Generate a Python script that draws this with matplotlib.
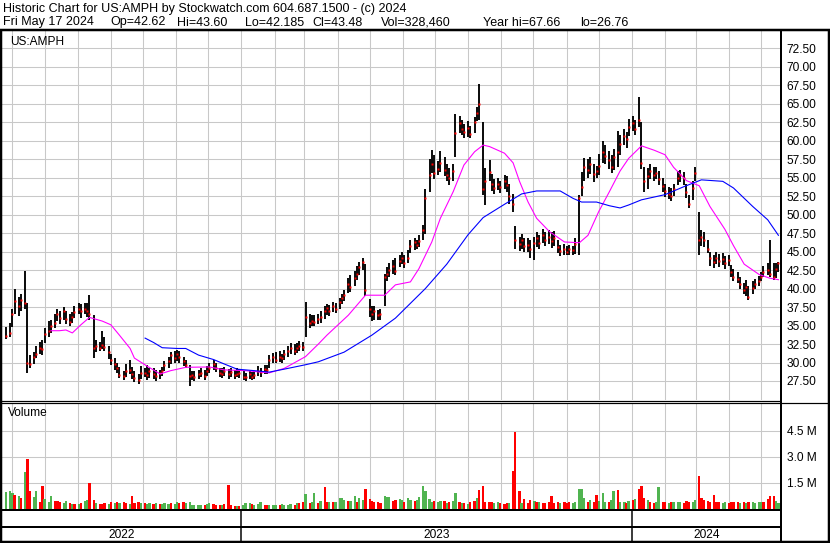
import numpy as np
import pandas as pd
import matplotlib
matplotlib.use("Agg")
import matplotlib.pyplot as plt
import matplotlib.dates as mdates
from matplotlib.lines import Line2D

plt.rcParams['font.family'] = ['Liberation Sans', 'DejaVu Sans']

# ---------------- data (one bar = two trading days) ----------------
closes = [
33.6,34.0,36.5,38.3,37.6,38.4,38.1,30.0,29.8,30.8,
31.2,32.0,31.8,33.9,34.3,35.0,35.4,36.5,36.0,36.9,
35.9,35.5,36.2,36.8,37.2,36.9,37.3,37.0,36.6,31.9,
32.3,32.0,32.4,32.1,31.4,30.3,29.8,29.2,28.3,28.2,
28.9,29.0,28.4,27.9,27.6,28.6,28.6,28.3,28.8,28.4,
28.2,28.6,28.9,29.6,30.2,31.0,30.6,31.1,30.7,30.2,
29.7,28.2,28.3,28.0,28.4,28.6,28.2,28.9,29.3,29.8,
29.3,28.6,28.5,28.9,28.4,28.7,28.3,28.5,28.6,28.1,
28.0,28.4,28.1,28.3,28.9,28.7,29.1,29.0,30.3,30.7,
30.4,30.8,30.6,31.1,31.5,31.9,31.6,32.0,32.3,32.1,
36.2,35.3,35.6,35.5,35.9,36.2,36.9,37.4,36.9,37.6,
37.3,38.2,38.7,39.1,40.6,40.2,41.4,42.0,42.9,43.6,
39.8,37.2,36.6,36.9,36.4,36.5,41.6,42.0,42.5,43.0,
42.4,43.7,44.1,43.5,44.2,45.7,46.3,45.9,46.4,47.9,
52.3,55.4,56.8,55.6,56.2,57.0,56.0,55.4,55.0,55.9,
61.0,62.4,61.6,61.2,61.7,60.9,62.5,63.7,65.0,53.4,
54.6,55.8,54.1,53.6,54.2,53.7,54.5,54.0,52.5,51.5,
46.6,46.0,46.5,45.7,45.9,45.4,46.2,46.8,46.2,47.2,
46.6,47.0,46.4,46.9,45.6,45.1,45.4,45.0,45.3,45.2,
46.0,52.2,53.8,56.5,56.0,56.8,55.5,55.9,56.6,58.5,
57.9,57.4,56.5,57.8,58.5,59.5,60.6,60.2,61.8,62.4,
61.6,62.8,57.0,54.6,55.2,55.9,55.3,55.6,54.8,53.9,
53.2,52.8,52.5,53.4,54.9,55.4,55.0,53.0,51.5,53.6,
55.6,46.6,47.0,46.5,45.4,44.1,43.6,44.2,43.7,44.0,
43.4,43.8,42.2,41.6,41.3,40.6,39.8,40.2,38.9,40.1,
40.6,41.0,41.6,42.2,42.5,42.0,41.6,42.6,43.48]

highs = [
34.8,35.3,37.2,39.9,38.9,39.2,42.4,38.1,31.0,31.4,
32.2,32.8,33.0,34.6,35.6,35.8,36.5,37.2,37.0,37.5,
37.0,36.6,36.8,37.7,38.0,37.9,38.1,38.0,39.1,36.4,
33.0,32.8,34.3,33.4,32.2,31.2,30.6,30.0,29.4,28.9,
29.8,30.3,29.4,28.9,28.5,29.5,29.2,29.6,29.3,29.3,
29.0,29.0,29.4,30.2,30.8,31.4,31.5,31.7,31.5,30.8,
30.4,29.6,28.9,28.8,29.0,29.2,29.0,29.5,30.0,30.3,
30.0,29.3,29.2,29.4,29.1,29.3,29.0,29.2,29.1,28.9,
28.6,28.9,28.7,28.8,29.5,29.3,29.6,29.7,31.0,31.3,
31.4,31.5,31.2,31.7,32.2,32.7,32.5,32.7,32.9,32.8,
38.2,36.6,36.4,36.4,36.6,36.9,37.6,37.9,37.8,38.2,
38.0,38.7,39.3,39.8,41.4,41.8,42.4,43.0,43.6,44.2,
43.3,38.6,37.6,37.7,37.1,37.2,42.0,42.9,43.5,43.8,
44.2,44.6,45.0,44.5,45.2,46.5,46.9,46.6,47.3,48.6,
53.5,57.5,58.7,58.0,57.2,58.6,57.8,56.8,56.3,56.8,
63.6,63.4,62.8,62.2,62.6,62.0,63.2,64.6,67.6,62.5,
56.3,57.4,55.5,54.8,55.0,54.6,55.4,55.2,54.1,52.8,
48.4,47.0,47.4,46.8,46.9,46.5,47.0,47.6,47.3,48.0,
47.7,47.9,47.6,47.8,46.5,45.9,46.0,45.8,45.9,45.8,
46.8,52.6,55.8,57.7,57.5,57.8,56.8,56.6,58.2,60.0,
59.4,58.6,58.0,58.9,61.3,60.8,61.6,61.2,62.9,63.4,
62.8,65.9,62.5,56.4,56.3,56.8,56.5,56.5,55.9,55.0,
54.2,53.8,53.6,54.2,55.9,56.0,55.8,54.1,52.6,54.6,
56.4,50.4,47.9,47.6,46.5,45.0,44.6,45.0,44.7,44.8,
44.4,44.5,43.2,42.6,42.2,41.5,40.8,41.2,40.3,41.0,
41.3,41.7,42.3,43.0,43.5,46.6,43.5,43.4,43.6]

lows = [
33.2,33.5,34.8,36.6,36.3,37.0,37.2,28.6,29.3,29.8,
30.6,31.2,31.0,32.6,33.5,34.0,34.6,35.6,35.2,35.8,
35.2,34.9,35.3,36.0,36.5,36.0,36.5,36.2,35.8,30.6,
31.4,31.5,31.8,31.5,30.5,29.6,29.0,28.6,27.9,27.7,
28.0,28.4,27.8,27.4,27.1,27.8,28.0,27.6,27.9,27.8,
27.5,27.8,28.2,28.8,29.3,29.8,30.0,30.2,30.0,29.5,
29.2,26.8,27.7,27.5,27.8,28.0,27.7,28.2,28.6,29.0,
28.7,28.0,27.9,28.2,27.8,28.1,27.8,28.0,27.9,27.6,
27.5,27.8,27.6,27.8,28.2,28.1,28.4,28.5,29.2,30.0,
29.9,30.1,30.0,30.4,30.8,31.2,31.0,31.3,31.6,31.5,
33.5,34.6,35.0,35.0,35.2,35.4,35.9,36.4,36.3,36.8,
36.7,37.3,37.9,38.3,39.4,39.6,40.4,41.2,41.8,42.5,
39.0,36.2,35.6,35.8,35.7,35.8,37.6,41.0,41.6,42.0,
41.8,42.9,43.3,42.8,43.4,44.8,45.2,45.3,45.6,46.6,
47.4,53.0,55.6,54.8,55.3,55.8,55.2,54.6,54.0,54.6,
57.8,61.0,60.7,60.3,60.5,60.3,61.0,62.6,62.8,52.6,
51.3,54.6,53.2,52.8,53.3,52.9,53.4,53.0,51.4,50.4,
45.4,45.1,45.3,44.9,44.9,44.2,43.9,45.6,45.4,46.2,
45.8,46.0,45.5,45.8,44.8,44.4,44.6,44.5,44.6,44.5,
44.7,44.6,52.5,54.6,55.0,55.5,54.4,54.9,55.4,57.0,
56.8,56.2,55.6,56.1,56.4,58.0,59.4,59.0,60.6,61.3,
60.8,61.8,56.2,53.0,53.4,54.8,54.6,54.8,54.0,53.0,
52.4,52.1,51.8,52.5,54.0,54.4,54.0,52.2,50.9,52.0,
54.5,44.5,45.7,45.6,44.8,43.1,42.8,43.3,42.9,43.2,
42.7,43.0,41.6,41.0,40.7,39.9,39.2,39.0,38.4,39.3,
40.0,40.4,41.0,41.6,41.8,41.6,41.2,41.4,42.19]

volume_m = [
0.95,1.0,0.9,0.8,0.75,0.6,2.1,2.85,1.0,0.65,
1.0,0.4,1.3,0.55,0.35,0.75,0.45,0.45,0.35,0.3,
0.45,0.3,0.25,0.28,0.25,0.3,0.45,0.5,1.45,0.5,
0.3,0.27,0.27,0.3,0.27,0.35,0.3,0.35,0.3,0.35,
0.3,0.25,0.72,0.3,0.35,0.3,0.3,0.25,0.3,0.28,
0.3,0.25,0.25,0.3,0.28,0.3,0.25,0.35,0.3,0.4,
0.3,0.35,0.2,0.2,0.22,0.2,0.2,0.25,0.3,0.25,
0.22,0.22,0.2,0.25,1.35,0.2,0.15,0.15,0.15,0.2,
0.3,0.3,0.25,0.22,0.25,0.35,0.2,0.2,0.2,0.2,
0.22,0.2,0.25,0.22,0.2,0.25,0.2,0.3,0.3,0.35,
0.85,0.3,0.35,0.9,0.3,0.45,1.24,0.35,0.4,0.35,
0.35,0.6,0.6,0.5,0.45,0.45,0.7,0.35,0.6,0.5,
1.1,0.55,0.45,0.35,0.35,0.3,0.7,0.65,0.65,0.45,
0.5,0.55,0.5,0.35,0.6,0.5,0.45,0.5,0.65,1.3,
1.0,0.55,0.35,0.45,0.4,0.45,0.45,0.3,0.4,0.45,
0.9,0.35,0.3,0.3,0.25,0.4,0.45,0.6,1.05,1.3,
0.4,0.4,0.35,0.3,0.35,0.3,0.25,0.3,0.3,2.16,
4.43,1.03,0.3,0.55,0.3,0.5,0.45,0.4,0.35,0.3,
0.3,0.4,0.75,0.3,0.35,0.3,0.35,0.3,0.35,0.3,
0.4,1.15,1.15,0.6,0.35,0.5,0.35,0.8,0.45,0.87,
0.4,0.35,0.5,1.0,1.05,0.4,0.35,0.3,0.45,0.5,
0.55,1.1,1.3,0.6,0.5,0.35,0.3,0.4,1.25,0.35,
0.35,0.3,0.35,0.35,0.4,0.35,0.3,0.45,0.4,0.35,
0.5,1.87,0.6,0.5,0.45,0.35,0.8,0.4,0.35,0.3,
0.35,0.3,0.35,0.4,0.35,0.3,0.35,0.3,0.4,0.35,
0.3,0.35,0.35,0.4,0.55,0.7,0.7,0.45,0.33]

volume_dir = ("gggrgrgrrg" "grrgggrrrg" "grgrgrggrr" "grrrgrgrgr" "rgrrrgrggr"
              "grgggrggrr" "ggggggrggr" "rrgrrrrgrg" "ggrgggrrgg" "grggggrgrr"
              "grggrgrrgr" "ggggrggrgg" "rrrrrrgggr" "rggrggrggg" "gggrggrgrg"
              "grgrgrrgrr" "rrrggrrrgr" "rrgrrrgrgr" "rrrrrgrrrg" "ggggrgrrgg"
              "grggrggrgr" "grrrgrrggr" "rgrgggrrrg" "grrrrrrrrg" "grrrrgrgrg"
              "gggrrrrgg")

ma_pink_idx = [15,18,20,22,25,28,32,35,38,41,43,47,51,55,60,68,73,80,88,93,
               100,104,107,114,120,126,130,135,138,142,145,149,153,156,159,161,166,169,171,174,
               177,181,186,191,194,198,201,205,208,212,216,220,223,227,231,235,240,243,246,251,
               255,258]
ma_pink = [34.3,34.3,34.4,34.0,35.1,36.1,35.6,35.1,33.7,31.9,30.6,29.5,28.45,28.9,29.35,29.4,29.0,28.9,28.6,29.2,
           30.8,32.5,33.7,36.4,39.1,39.1,40.5,40.9,42.7,46.3,49.5,53.1,56.7,58.5,59.4,59.2,58.3,57.0,54.5,51.7,
           49.5,47.7,46.3,46.2,47.2,50.4,53.1,55.9,57.6,59.3,58.7,58.1,56.4,54.6,53.9,51.1,48.0,45.8,43.3,41.9,
           41.4,41.2]

ma_blue_idx = [46,49,52,57,60,64,69,73,77,83,88,93,100,104,113,122,130,140,147,154,
               159,166,172,177,185,189,192,197,201,205,208,212,220,226,232,239,243,249,254,258]
ma_blue = [33.3,32.7,32.0,31.9,31.9,31.0,30.4,29.8,29.1,28.9,28.7,29.1,29.7,30.1,31.4,33.7,36.0,40.0,43.3,47.3,
           49.6,51.4,52.8,53.2,53.2,52.2,51.7,51.7,51.2,50.9,51.3,52.0,52.7,53.8,54.7,54.5,53.6,51.1,49.3,47.2]

price_ticks = [27.5,30,32.5,35,37.5,40,42.5,45,47.5,50,52.5,55,57.5,60,62.5,65,67.5,70,72.5]
volume_ticks = [1.5, 3.0, 4.5]
volume_tick_labels = ["1.5 M", "3.0 M", "4.5 M"]
years = ["2022", "2023", "2024"]

header1 = "Historic Chart for US:AMPH by Stockwatch.com 604.687.1500 - (c) 2024"
header2_parts = ["Fri May 17 2024", "Op=42.62", "Hi=43.60", "Lo=42.185", "Cl=43.48",
                 "Vol=328,460", "Year hi=67.66", "lo=26.76"]
header2_x = [3, 110, 177, 245, 312, 381, 483, 580]

dates = pd.bdate_range(end="2024-05-17", periods=517)[::2]

# ---------------- layout ----------------
W, H = 830, 543
fig = plt.figure(figsize=(W / 100, H / 100), dpi=100)
fig.patch.set_facecolor("white")

def axes_px(x0, y0, x1, y1):
    return fig.add_axes([x0 / W, 1 - y1 / H, (x1 - x0) / W, (y1 - y0) / H])

def pxline(xs, ys, lw):
    fig.add_artist(Line2D([x / W for x in xs], [1 - y / H for y in ys],
                          transform=fig.transFigure, color="black", lw=lw * 0.72,
                          solid_capstyle="butt"))

xl = (mdates.date2num(pd.Timestamp("2022-05-22 06:00")),
      mdates.date2num(pd.Timestamp("2024-05-19 10:00")))
GRID = "#c8c8c8"
FS = 8.6
HFS = 9.0

ax = axes_px(2, 31, 781, 400)
axv = axes_px(2, 403, 781, 508.5)
axy = axes_px(2, 527, 781, 541)

for a in (ax, axv):
    a.set_xlim(*xl)
    a.xaxis.set_major_locator(mdates.MonthLocator())
    a.tick_params(axis="x", length=0, labelbottom=False)
    a.grid(True, color=GRID, lw=0.75)
    a.set_axisbelow(True)
    for s in a.spines.values():
        s.set_visible(False)
    a.yaxis.tick_right()
    a.tick_params(axis="y", length=0, pad=4, labelsize=FS)

# price panel
ax.set_ylim(24.93, 74.83)
ax.set_yticks(price_ticks)
ax.set_yticklabels([f"{v:.2f}" for v in price_ticks])
ax.vlines(dates, lows, highs, color="black", lw=1.35)
ax.plot(dates, closes, ls="none", marker="s", ms=1.7, mfc="red", mec="none")
ax.plot(dates[ma_pink_idx], ma_pink, color="#ff00ff", lw=0.8)
ax.plot(dates[ma_blue_idx], ma_blue, color="#0000ff", lw=0.8)
ax.text(8 / 779, 1 - 11 / 369, "US:AMPH", transform=ax.transAxes, fontsize=FS,
        va="center", ha="left")

# volume panel
axv.set_ylim(0, 6.087)
axv.set_yticks(volume_ticks)
axv.set_yticklabels(volume_tick_labels)
cols = ["#50b450" if c == "g" else "#ff0000" for c in volume_dir]
axv.bar(dates, volume_m, width=2.2, color=cols, align="center", lw=0)
axv.text(6 / 779, 1 - 10 / 105.5, "Volume", transform=axv.transAxes, fontsize=FS,
         va="center", ha="left")

# year row
axy.set_xlim(*xl)
axy.set_ylim(0, 1)
axy.axis("off")
bounds = [xl[0], mdates.date2num(pd.Timestamp("2023-01-01")),
          mdates.date2num(pd.Timestamp("2024-01-01")), xl[1]]
for i, yr in enumerate(years):
    axy.text((bounds[i] + bounds[i + 1]) / 2, 0.45, yr, ha="center", va="center",
             fontsize=FS)

# header texts
fig.text(3 / W, 1 - 9 / H, header1, fontsize=HFS, va="center", ha="left")
for s, xp in zip(header2_parts, header2_x):
    fig.text(xp / W, 1 - 22.5 / H, s, fontsize=HFS, va="center", ha="left")

# frame lines
pxline([0, 830], [29.5, 29.5], 2.5)
pxline([0, 781], [400.5, 400.5], 1.2)
pxline([0, 830], [402.5, 402.5], 1.2)
pxline([0, 781], [510, 510], 2)
pxline([0, 781], [527, 527], 2)
pxline([0, 830], [541.5, 541.5], 2.5)
pxline([1, 1], [29, 543], 2.5)
pxline([781, 781], [29, 543], 2)
pxline([829, 829], [29, 543], 2.5)
for b in bounds[1:3]:
    xp = 2 + (b - xl[0]) / (xl[1] - xl[0]) * 779
    pxline([xp, xp], [510, 541], 1.5)

fig.savefig("out.png", dpi=100, facecolor="white")
